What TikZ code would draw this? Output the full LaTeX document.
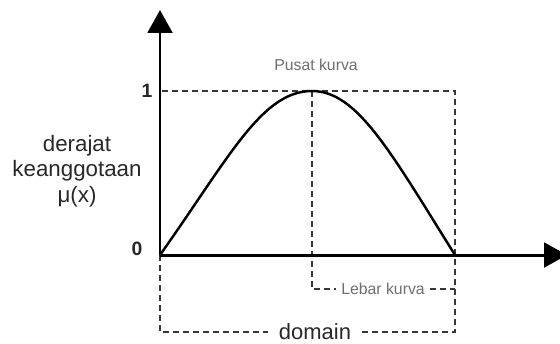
\documentclass[tikz,border=0pt]{standalone}
\usepackage{fontspec}
\setmainfont{Liberation Sans}
\usetikzlibrary{arrows.meta,positioning}
\definecolor{guidegray}{RGB}{55,55,55}
\definecolor{notegray}{RGB}{110,110,110}
\definecolor{textgray}{RGB}{40,40,40}

\begin{document}
\begin{tikzpicture}[x=0.02cm, y=-0.02cm,
  axis/.style={line width=1.7pt, -{Triangle[width=14pt,length=13pt]}},
  guide/.style={guidegray, line width=0.9pt, dash pattern=on 3.4pt off 2.3pt},
  note/.style={font=\fontsize{9}{10}\selectfont, text=notegray, inner sep=3pt},
  tick/.style={font=\bfseries\fontsize{11}{13}\selectfont, text=textgray}]
  \useasboundingbox (0,0) rectangle (560,343);

  % Points on the axes
  \coordinate (O) at (160,255);
  \coordinate (ytip) at (160,10);
  \coordinate (xtip) at (567,255);
  \coordinate (one) at (160,91);
  \coordinate (peak) at (312,91);
  \coordinate (xr) at (455,255);
  \coordinate (corner) at (455,91);

  % Dashed guides
  \node[note] (pusat) at (316,65) {Pusat kurva};
  \node[note] (lebar) at (383,289) {Lebar kurva};
  \node[font=\fontsize{12.5}{14}\selectfont, text=textgray, inner xsep=6pt] (domain) at (315,332) {domain};
  \draw[guide] (domain.east) -| (corner) -- (one);
  \draw[guide] (O) |- (domain.west);
  \draw[guide] (peak) |- (lebar.west);
  \draw[guide] (lebar.east) -- (lebar.east -| xr);

  % Axes
  \draw[axis] (O) -- (ytip);
  \draw[axis] (O) -- (xtip);
  \node[tick] (lbl1) at (147,91) {1};
  \node[tick] (lbl0) at (137,249) {0};

  % Membership curve
  \draw[line width=1.4pt] (O) .. controls (230,156) and (262,91) .. (peak)
    .. controls (357,91) and (390,151) .. (xr);

  % Axis title
  \node[font=\fontsize{12.7}{14.5}\selectfont, text=textgray, align=center] (derajat) at (77,171) {derajat\\keanggotaan\\μ(x)};
\end{tikzpicture}
\end{document}
